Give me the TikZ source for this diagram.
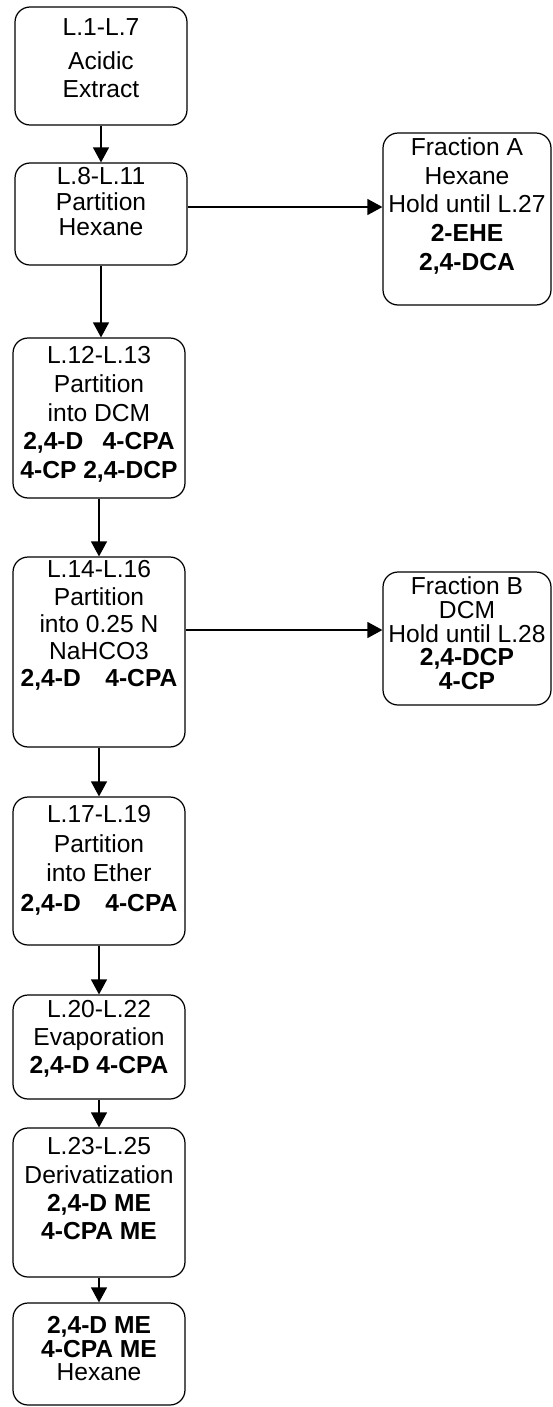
\documentclass[tikz,border=0pt]{standalone}
\usepackage{fontspec}
\setmainfont{Liberation Sans}
\usetikzlibrary{arrows.meta,positioning}

\begin{document}
\begin{tikzpicture}[x=0.02cm, y=-0.02cm,
    box/.style={draw, rounded corners=0.3cm, line width=0.7pt, minimum width=3.44cm, inner sep=0pt},
    txt/.style={align=center, inner sep=0pt, font=\fontsize{14}{15.5}\selectfont},
    arr/.style={line width=0.7pt, -{Triangle[length=0.3cm, width=0.32cm]}}]
    \useasboundingbox (0,0) rectangle (552,1407);

    % Main column
    \node[box, minimum height=2.36cm] (b1) at (101,66) {};
    \node[box, minimum height=2.04cm] (b2) at (101,214) {};
    \node[box, minimum height=3.2cm] (b3) at (99,418) {};
    \node[box, minimum height=3.8cm] (b4) at (99,652) {};
    \node[box, minimum height=2.96cm] (b5) at (99,871) {};
    \node[box, minimum height=2.08cm] (b6) at (99,1047) {};
    \node[box, minimum height=2.98cm] (b7) at (99,1202.5) {};
    \node[box, minimum height=2.04cm] (b8) at (99,1354) {};

    % Side fractions
    \node[box, minimum width=3.36cm, minimum height=3.44cm] (fa) at (467,219) {};
    \node[box, minimum width=3.36cm, minimum height=2.66cm] (fb) at (467,638.5) {};

    % Texts
    \node[txt, below=0.24cm of b1.north] (t1) {L.1-L.7\\[4pt]Acidic\\Extract};
    \node[txt, font=\fontsize{14}{14.5}\selectfont, below=0.1cm of b2.north] (t2)
        {L.8-L.11\\Partition\\Hexane};
    \node[txt, font=\fontsize{14}{16.3}\selectfont, below=0.18cm of b3.north] (t3)
        {L.12-L.13\\Partition\\into DCM\\
        \textbf{2,4-D\hspace{11pt}4-CPA}\\\textbf{4-CP 2,4-DCP}};
    \node[txt, below=0.08cm of b4.north] (t4) {L.14-L.16\\Partition\\into 0.25 N\\NaHCO3\\
        \textbf{2,4-D\quad 4-CPA}};
    \node[txt, font=\fontsize{14}{16.8}\selectfont, below=0.18cm of b5.north] (t5)
        {L.17-L.19\\Partition\\into Ether\\\textbf{2,4-D\quad 4-CPA}};
    \node[txt, font=\fontsize{14}{15.8}\selectfont, below=0.12cm of b6.north] (t6)
        {L.20-L.22\\Evaporation\\\textbf{2,4-D 4-CPA}};
    \node[txt, font=\fontsize{14}{16}\selectfont, below=0.2cm of b7.north] (t7)
        {L.23-L.25\\Derivatization\\\textbf{2,4-D ME}\\\textbf{4-CPA ME}};
    \node[txt, font=\fontsize{14}{13.2}\selectfont, below=0.28cm of b8.north] (t8)
        {\textbf{2,4-D ME}\\\textbf{4-CPA ME}\\Hexane};
    \node[txt, font=\fontsize{14}{16.3}\selectfont, below=0.1cm of fa.north] (ta)
        {Fraction A\\Hexane\\Hold until L.27\\\textbf{2-EHE}\\\textbf{2,4-DCA}};
    \node[txt, font=\fontsize{14}{13.5}\selectfont, below=0.1cm of fb.north] (tb)
        {Fraction B\\DCM\\Hold until L.28\\\textbf{2,4-DCP}\\\textbf{4-CP}};

    % Arrows
    \coordinate (ya) at (0,207);
    \coordinate (yb) at (0,630);
    \draw[arr] (b1.south) -- (b2.north);
    \draw[arr] (b2.south) -- (b2.south |- b3.north);
    \draw[arr] (b3.south) -- (b4.north);
    \draw[arr] (b4.south) -- (b5.north);
    \draw[arr] (b5.south) -- (b6.north);
    \draw[arr] (b6.south) -- (b7.north);
    \draw[arr] (b7.south) -- (b8.north);
    \draw[arr] (b2.east |- ya) -- (fa.west |- ya);
    \draw[arr] (b4.east |- yb) -- (fb.west |- yb);
\end{tikzpicture}
\end{document}
